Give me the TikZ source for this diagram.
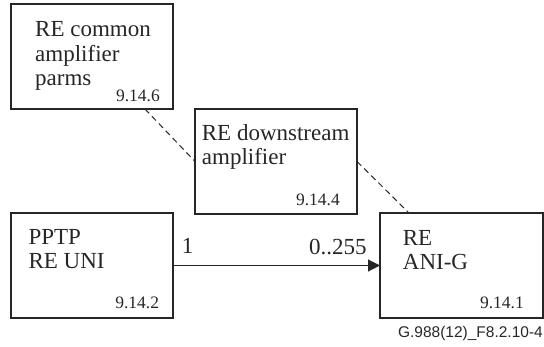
\documentclass[tikz,border=0pt]{standalone}
\usepackage{fontspec}
\setmainfont{Liberation Serif}
\newfontfamily\capfont{Liberation Sans}
\usetikzlibrary{arrows.meta,calc}
\begin{document}
\begin{tikzpicture}[x=1pt,y=-1pt,
  box/.style={draw=black!85,line width=1.1pt,minimum width=162pt,minimum height=105pt,anchor=north west,inner sep=0pt,outer sep=0pt},
  lbl/.style={inner sep=0pt,anchor=base west,align=left,font=\fontsize{23}{24.5}\selectfont,text=black!85},
  num/.style={inner sep=0pt,anchor=base east,font=\fontsize{17.5}{20}\selectfont,text=black!85},
  mult/.style={inner sep=0pt,font=\fontsize{23}{24.5}\selectfont,text=black!85},
  dashline/.style={draw=black!85,line width=1pt,dash pattern=on 6pt off 4pt},
  assoc/.style={draw=black!85,line width=1.1pt,-{Triangle[length=12pt,width=12pt]}}]
\useasboundingbox (0,0) rectangle (544,347);
% boxes
\node[box] (A) at (11,4) {};
\node[box] (B) at (195,109) {};
\node[box] (C) at (11,213) {};
\node[box,minimum width=163pt] (D) at (380,213) {};
% box texts (anchored at the baseline of the last line)
\node[lbl] (At) at (35,86) {RE common\\amplifier\\parms};
\node[num] (An) at (160,101.7) {9.14.6};
\node[lbl] (Bt) at (201.7,165) {RE downstream\\amplifier};
\node[num] (Bn) at (340,206) {9.14.4};
\node[lbl] (Ct) at (28.3,269) {PPTP\\RE UNI};
\node[num] (Cn) at (159.3,309) {9.14.2};
\node[lbl] (Dt) at (402.7,270) {RE\\ANI-G};
\node[num] (Dn) at (524,309) {9.14.1};
% connectors
\coordinate (Aout) at ($(A.south west)+(134,0)$);
\coordinate (Din) at ($(D.north west)+(29,0)$);
\draw[dashline] (Aout) -- (B.west);
\draw[dashline] (B.east) -- (Din);
\draw[assoc] (C.east) -- (D.west);
\node[mult,anchor=base west] (m1) at (181.7,254) {1};
\node[mult,anchor=base east] (m2) at (366.7,255) {0..255};
% caption
\node[inner sep=0pt,anchor=base east,font=\capfont\fontsize{15.5}{18}\selectfont,text=black!85] (cap) at (543,338) {G.988(12)\_F8.2.10-4};
\end{tikzpicture}
\end{document}
